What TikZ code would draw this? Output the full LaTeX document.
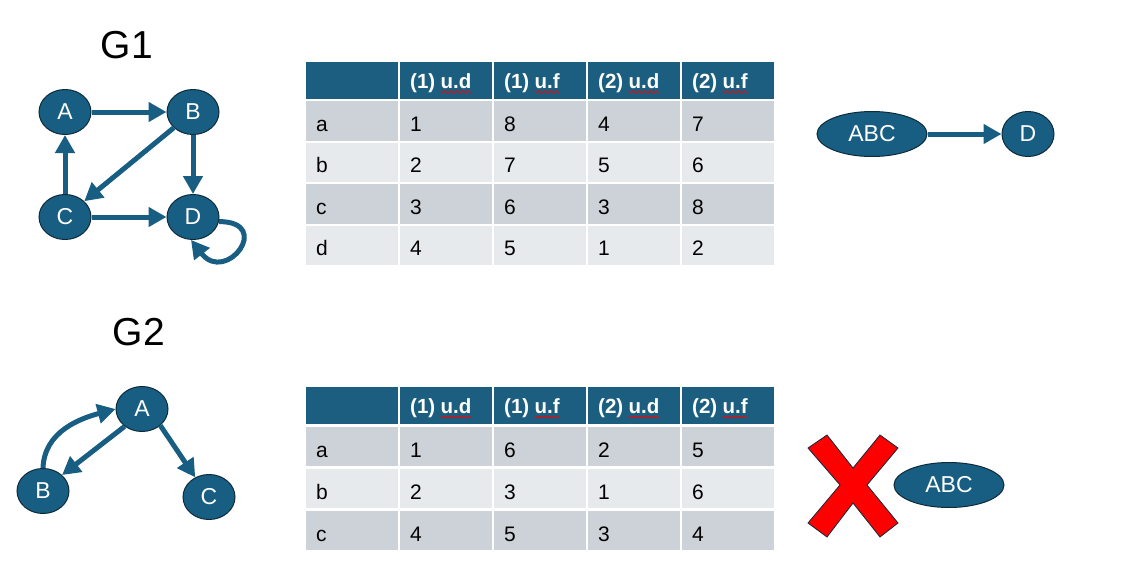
\documentclass[tikz,border=0pt]{standalone}
\usepackage{fontspec}
\setmainfont{Liberation Sans}
\usetikzlibrary{arrows.meta,shapes.geometric,decorations.pathmorphing}

\definecolor{nodeblue}{HTML}{175E82}
\definecolor{nodeline}{HTML}{0D2B3B}
\definecolor{headblue}{HTML}{1B5E80}
\definecolor{rowdark}{HTML}{CDD2D8}
\definecolor{rowlight}{HTML}{E7EAED}

\tikzset{
  vertex/.style={ellipse, draw=nodeline, line width=1pt, fill=nodeblue, text=white,
    minimum width=52pt, minimum height=45pt, inner sep=0pt, font=\fontsize{23}{26}\selectfont},
  wide/.style={vertex, minimum width=110pt},
  edge/.style={-{Triangle[length=18pt,width=19pt]}, line width=5pt, draw=nodeblue},
  title/.style={font=\fontsize{39}{44}\selectfont},
  cell/.style={anchor=north west, text width=72pt, inner xsep=10pt, inner ysep=0pt,
    text height=21pt, text depth=0pt, align=left, font=\fontsize{21}{24}\selectfont},
  headcell/.style={cell, fill=headblue, minimum height=37pt},
  headtext/.style={inner sep=0pt, text=white, font=\fontsize{20.5}{24}\selectfont\bfseries},
  spell/.style={draw=red, line width=0.6pt, decorate,
    decoration={snake, amplitude=0.8pt, segment length=3pt}},
}

\begin{document}
\begin{tikzpicture}[x=1pt, y=-1pt, node distance=128pt]
\useasboundingbox (0,0) rectangle (1125,587);

% graph G1
\node[title] (g1) at (127,45) {G1};
\node[vertex] (A) at (65,112) {A};
\node[vertex, right of=A] (B) {B};
\node[vertex, below of=A, node distance=105pt] (C) {C};
\node[vertex, right of=C] (D) {D};

\draw[edge] (A) -- (B);
\draw[edge] (B) -- (C);
\draw[edge] (B) -- (D);
\draw[edge] (C) -- (A);
\draw[edge] (C) -- (D);
\draw[edge] (D.-10) .. controls +(55,0) and +(35,45) .. (D.-95);

% table G1
\node[headcell] (t1h0) at (306,62) {};
\foreach \n/\f [count=\j] in {1/d,1/f,2/d,2/f} {
  \node[headcell] (t1h\j) at (306+94*\j,62) {};
  \node[headtext, anchor=west] (t1p\j) at ([xshift=10pt,yshift=-2pt]t1h\j.west) {(\n)};
  \node[headtext, anchor=base west] (t1u\j) at ([xshift=5pt]t1p\j.base east) {u.\f};
  \draw[spell] ([yshift=-4pt]t1u\j.base west) -- ([yshift=-4pt]t1u\j.base east);
}
\foreach \row/\shade [count=\i from 0] in {{a,1,8,4,7}/rowdark,{b,2,7,5,6}/rowlight,{c,3,6,3,8}/rowdark,{d,4,5,1,2}/rowlight}
  \foreach \txt [count=\j from 0] in \row
    \node[cell, fill=\shade, minimum height=39.5pt] (t1-\i-\j) at (306+94*\j,101+41.5*\i) {\txt};

% condensed G1
\node[wide] (abc1) at (872,134) {ABC};
\node[vertex] (d1) at (1028,134) {D};
\draw[edge] (abc1) -- (d1);

% graph G2
\node[title] (g2) at (139,332) {G2};
\node[vertex] (A2) at (142,409) {A};
\node[vertex] (B2) at (43,491) {B};
\node[vertex] (C2) at (209,497) {C};

\draw[edge] (B2.north) to[out=88, in=195] (A2.west);
\draw[edge] (A2.-135) -- (B2.40);
\draw[edge] (A2.-42) -- (C2.125);

% table G2
\node[headcell] (t2h0) at (306,387) {};
\foreach \n/\f [count=\j] in {1/d,1/f,2/d,2/f} {
  \node[headcell] (t2h\j) at (306+94*\j,387) {};
  \node[headtext, anchor=west] (t2p\j) at ([xshift=10pt,yshift=-2pt]t2h\j.west) {(\n)};
  \node[headtext, anchor=base west] (t2u\j) at ([xshift=5pt]t2p\j.base east) {u.\f};
  \draw[spell] ([yshift=-4pt]t2u\j.base west) -- ([yshift=-4pt]t2u\j.base east);
}
\foreach \row/\shade [count=\i from 0] in {{a,1,6,2,5}/rowdark,{b,2,3,1,6}/rowlight,{c,4,5,3,4}/rowdark}
  \foreach \txt [count=\j from 0] in \row
    \node[cell, fill=\shade, minimum height=39pt] (t2-\i-\j) at (306+94*\j,427+42*\i) {\txt};

% no condensed graph for G2
\draw[fill=red, draw=nodeline, line width=0.8pt] (808,448) -- (827,435) -- (853,468) -- (880,435)
  -- (898,448) -- (867,485) -- (898,523) -- (880,537) -- (853,503) -- (827,537) -- (808,523)
  -- (840,485) -- cycle;
\node[wide] (abc2) at (949,485) {ABC};
\end{tikzpicture}
\end{document}
